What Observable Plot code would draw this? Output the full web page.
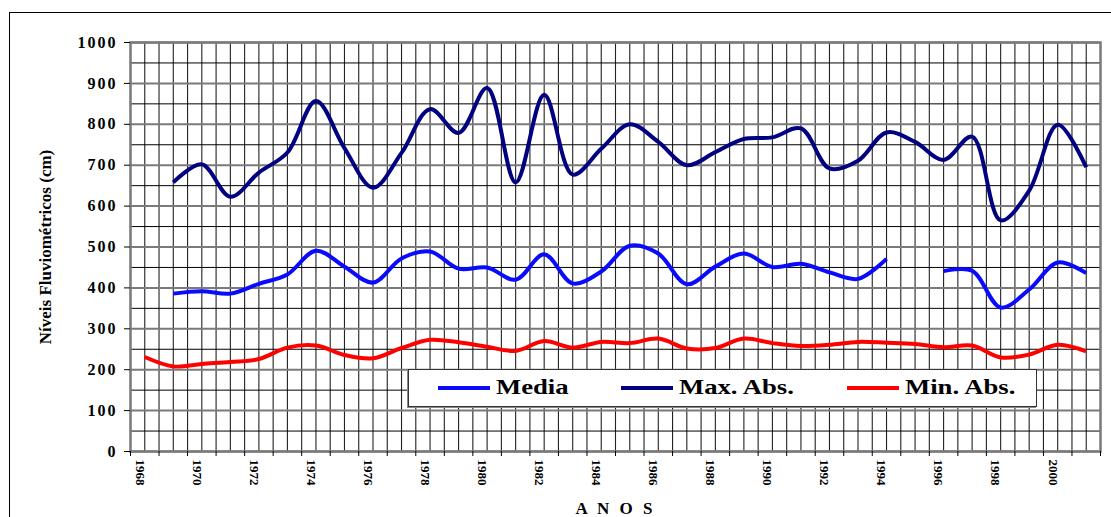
<!DOCTYPE html>
<html>
<head>
<meta charset="utf-8">
<script src="https://cdn.jsdelivr.net/npm/d3@7"></script>
<script src="https://cdn.jsdelivr.net/npm/@observablehq/plot@0.6"></script>
<style>
  html, body { margin: 0; padding: 0; background: #fff; overflow: hidden; }
  #wrap { position: relative; width: 1111px; height: 517px; overflow: hidden; }
  #border { position: absolute; left: 9px; top: 12px; width: 1200px; height: 600px; border: 1.5px solid #000; box-sizing: border-box; }
  #chart { position: absolute; left: 0; top: 0; }
  #legend { position: absolute; left: 408px; top: 369px; width: 629px; height: 38px; box-sizing: border-box;
            background: #fff; border: 1.5px solid #333; box-shadow: -1px 1px 0 #888;
            font-family: "Liberation Serif", "Times New Roman", serif; font-weight: bold; font-size: 21px; color: #000; }
  .item { position: absolute; top: 0; height: 36px; }
  .sw { position: absolute; top: 16px; width: 52px; height: 4px; }
  .lbl { position: absolute; top: 5px; white-space: nowrap; transform: scaleX(1.27); transform-origin: left center; }
</style>
</head>
<body>
<div id="wrap">
  <div id="border"></div>
  <div id="chart"></div>
  <div id="legend"></div>
</div>
<script>
// Annual river levels (cm), 1968–2001
const years = [1968,1969,1970,1971,1972,1973,1974,1975,1976,1977,1978,1979,1980,1981,1982,1983,1984,
               1985,1986,1987,1988,1989,1990,1991,1992,1993,1994,1995,1996,1997,1998,1999,2000,2001];
const media = [null,386,392,386,410,433,491,452,413,472,489,447,450,420,482,411,440,
               503,484,409,452,484,451,459,438,422,471,null,441,442,352,396,462,436];
const maxAbs = [null,658,702,623,682,731,857,742,645,730,837,779,889,658,872,677,740,
                800,757,700,732,764,768,790,692,711,780,757,713,770,565,638,799,695];
const minAbs = [231,208,214,219,226,254,259,236,228,253,273,267,256,246,270,254,268,
                265,276,252,253,276,265,258,261,268,266,263,255,259,230,237,261,245];

const seriesNames = ["Media", "Max. Abs.", "Min. Abs."];
const seriesColors = ["#0a0aff", "#000080", "#ff0000"];
const seriesValues = [media, maxAbs, minAbs];

const yearLabels = years.filter(y => y % 2 === 0);
const yTicks = d3.range(0, 1001, 100);
const yMinor = d3.range(50, 1000, 100);

const rows = seriesNames.map((name, k) =>
  years.map((yr, i) => ({series: name, year: yr, value: seriesValues[k][i]}))
);

const font = '"Liberation Serif", "Times New Roman", serif';

const chart = Plot.plot({
  width: 1111,
  height: 517,
  marginLeft: 130,
  marginRight: 11,
  marginTop: 42,
  marginBottom: 66,
  style: {fontFamily: font, fontWeight: "bold", background: "transparent", overflow: "visible"},
  x: {domain: [1967.5, 2001.5], label: null},
  y: {domain: [0, 1000], label: null},
  marks: [
    // vertical grid: category boundaries and centers
    Plot.gridX(d3.range(1967.5, 2001.6, 0.5), {stroke: "#222", strokeOpacity: 1, strokeWidth: 1.1}),
    // horizontal grid
    Plot.gridY(yMinor, {stroke: "#000", strokeOpacity: 1, strokeWidth: 1}),
    Plot.gridY(yTicks, {stroke: "#7a7a7a", strokeOpacity: 1, strokeWidth: 2}),
    Plot.frame({stroke: "#7a7a7a", strokeWidth: 2.5}),
    // axes
    Plot.axisY(yTicks, {tickSize: 6, tickPadding: 7, fontSize: 16, fontWeight: "bold", stroke: "#000",
                        tickFormat: d => String(d),
                        label: "Níveis Fluviométricos (cm)", labelAnchor: "center", labelArrow: "none", labelOffset: 92}),
    Plot.axisX(d3.range(1967.5, 2001.6, 1), {tickSize: 5, stroke: "#000", tickFormat: () => "", label: null}),
    Plot.axisX(yearLabels, {tickSize: 0, tickRotate: 90, tickPadding: 8, fontSize: 13, fontWeight: "bold",
                            tickFormat: d => String(d), dx: -5,
                            label: "A N O S", labelAnchor: "center", labelArrow: "none", labelOffset: 62}),
    // data series
    ...rows.map((data, k) =>
      Plot.line(data, {x: "year", y: "value", stroke: seriesColors[k], strokeWidth: 4,
                       curve: "catmull-rom", strokeLinejoin: "round", strokeLinecap: "butt"})
    )
  ]
});
document.getElementById("chart").appendChild(chart);

// axis text styling
const svg = d3.select(chart);
svg.selectAll("g[aria-label='y-axis tick label'] text").style("letter-spacing", "2px");
svg.selectAll("g[aria-label='y-axis label'] text").attr("font-size", 17);
svg.selectAll("g[aria-label='x-axis label'] text").attr("font-size", 17).style("letter-spacing", "3px");

// legend
const legend = d3.select("#legend");
const itemLeft = [29, 212, 438];
seriesNames.forEach((name, k) => {
  const it = legend.append("div").attr("class", "item").style("left", itemLeft[k] + "px");
  it.append("div").attr("class", "sw").style("left", "0px").style("background", seriesColors[k]);
  it.append("div").attr("class", "lbl").style("left", "58px").text(name);
});
</script>
</body>
</html>
